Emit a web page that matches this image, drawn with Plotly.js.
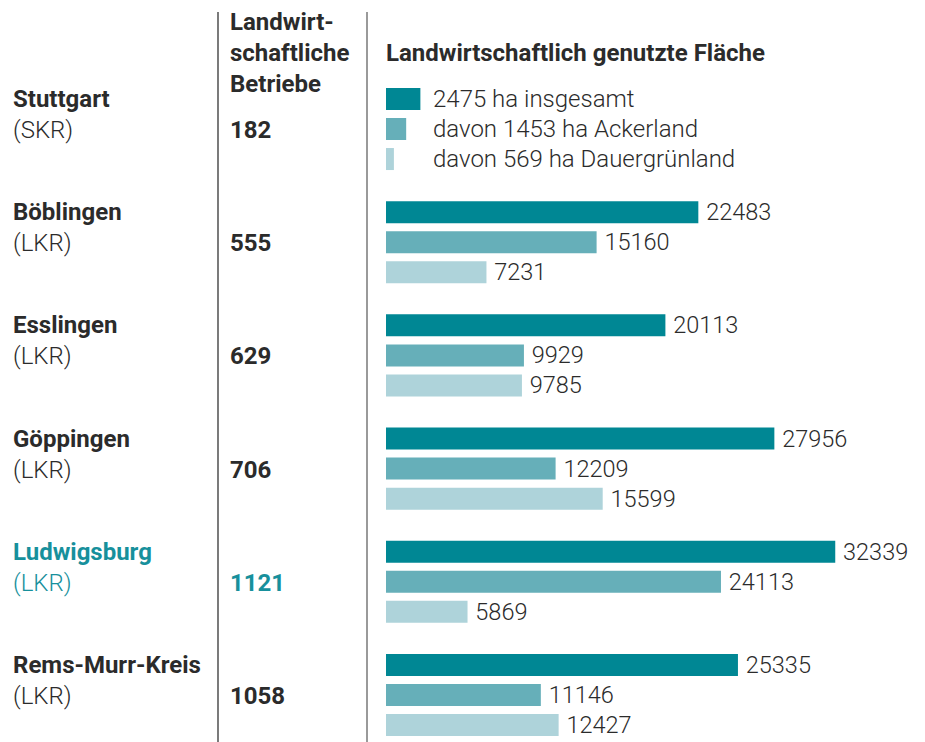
<!DOCTYPE html>
<html><head><meta charset="utf-8">
<script src="https://cdn.plot.ly/plotly-3.0.1.min.js"></script>
<style>html,body{margin:0;padding:0;background:#fff}#chart{width:925px;height:742px}</style>
</head><body><div id="chart"></div>
<script>
const districts = ['Stuttgart','Böblingen','Esslingen','Göppingen','Ludwigsburg','Rems-Murr-Kreis'];
const kinds = ['(SKR)','(LKR)','(LKR)','(LKR)','(LKR)','(LKR)'];
const betriebe = [182,555,629,706,1121,1058];
const insgesamt = [2475,22483,20113,27956,32339,25335];
const ackerland = [1453,15160,9929,12209,24113,11146];
const gruenland = [569,7231,9785,15599,5869,12427];
const legendLabels = ['2475 ha insgesamt','davon 1453 ha Ackerland','davon 569 ha Dauergrünland'];
const highlight = 'Ludwigsburg';

const colors = ['#008794','#66afb9','#aed3da'];
const TXT = '#2b2b2b', TEAL = '#17909c';
const FONT = 'Roboto, "Open Sans", sans-serif';
const FS = 24;
const W = 925, H = 742, ML = 386, MR = 0;
const PW = W - ML - MR;
const px2paperX = px => (px - ML) / PW;
const px2paperY = py => 1 - py / H;

const series = [insgesamt, ackerland, gruenland];
const traces = series.map((vals, i) => ({
  type: 'bar', orientation: 'h',
  y: districts, x: vals,
  marker: {color: colors[i], line: {width: 0}},
  text: vals.map((v, j) => j === 0 ? '' : '\u2009' + String(v)),
  textposition: 'outside', constraintext: 'none', cliponaxis: false,
  textfont: {family: FONT, size: 23.5, color: TXT, weight: 300},
  hoverinfo: 'skip', showlegend: false
}));

const annotations = [];
districts.forEach((d, j) => {
  const c = d === highlight ? TEAL : TXT;
  annotations.push({xref:'paper', yref:'y', x: px2paperX(11), y: d, yshift: 30, xanchor:'left', yanchor:'middle', showarrow:false,
    text: '<b>' + d + '</b>', font:{family:FONT, size:FS, color:c}});
  annotations.push({xref:'paper', yref:'y', x: px2paperX(11), y: d, yshift: -1, xanchor:'left', yanchor:'middle', showarrow:false,
    text: kinds[j], font:{family:FONT, size:FS, color:c, weight:300}});
  annotations.push({xref:'paper', yref:'y', x: px2paperX(228), y: d, yshift: -1, xanchor:'left', yanchor:'middle', showarrow:false,
    text: '<b>' + betriebe[j] + '</b>', font:{family:FONT, size:FS, color:c}});
});
legendLabels.forEach((t, i) => {
  annotations.push({xref:'paper', yref:'y', x: px2paperX(431), y: districts[0], yshift: 30 - 30*i, xanchor:'left', yanchor:'middle', showarrow:false,
    text: t, font:{family:FONT, size:FS, color:TXT, weight:300}});
});
annotations.push({xref:'paper', yref:'paper', x: px2paperX(228), y: px2paperY(53), xanchor:'left', yanchor:'middle', showarrow:false, align:'left',
  text:'<b>Landwirt-<br>schaftliche<br>Betriebe</b>', font:{family:FONT, size:FS, color:TXT}});
annotations.push({xref:'paper', yref:'paper', x: px2paperX(384), y: px2paperY(53), xanchor:'left', yanchor:'middle', showarrow:false,
  text:'<b>Landwirtschaftlich genutzte Fläche</b>', font:{family:FONT, size:FS, color:TXT}});

const shapes = [
  {type:'line', xref:'paper', yref:'paper', x0:px2paperX(218), x1:px2paperX(218), y0:px2paperY(12), y1:0, line:{color:'#333', width:1.3}},
  {type:'line', xref:'paper', yref:'paper', x0:px2paperX(367), x1:px2paperX(367), y0:px2paperY(12), y1:0, line:{color:'#9a9a9a', width:2}}
];

const layout = {
  width: W, height: H,
  margin: {l: ML, r: MR, t: 0, b: 0, pad: 0},
  paper_bgcolor: '#fff', plot_bgcolor: '#fff',
  barmode: 'group', bargap: 0.204, bargroupgap: 0.267,
  xaxis: {visible: false, range: [0, 38800], fixedrange: true},
  yaxis: {visible: false, type: 'category', range: [5 + 47/113.2, -129/113.2], fixedrange: true},
  annotations, shapes,
  font: {family: FONT, color: TXT}
};
Plotly.newPlot('chart', traces, layout, {staticPlot: true, displayModeBar: false});
</script></body></html>
